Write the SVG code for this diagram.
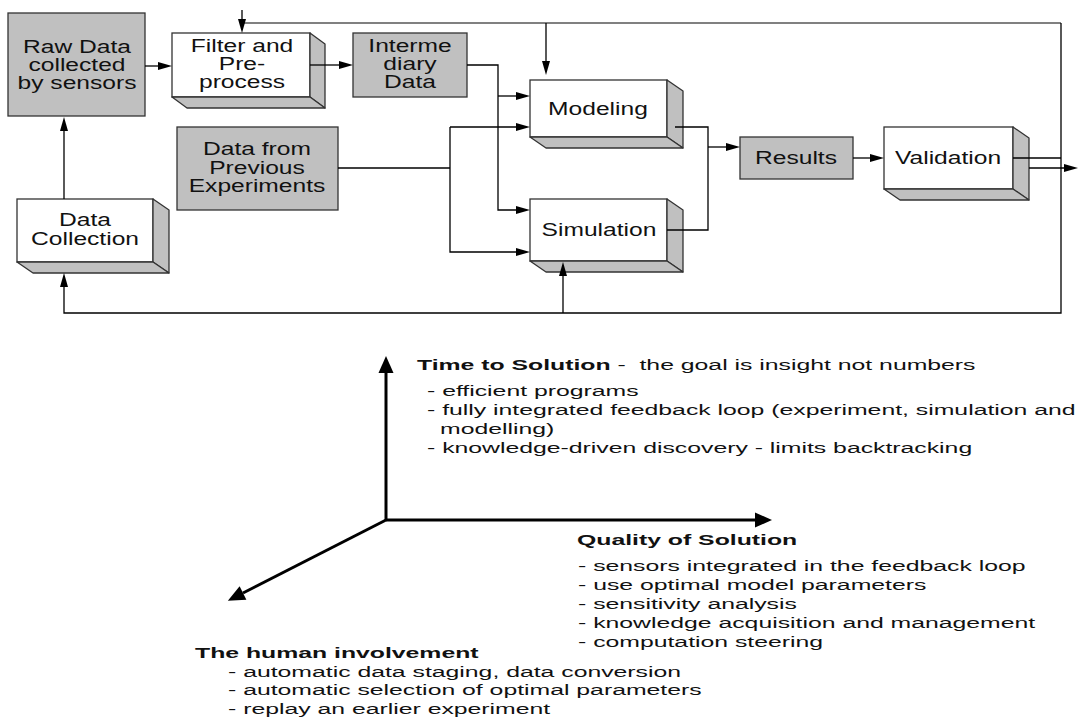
<svg xmlns="http://www.w3.org/2000/svg" width="1084" height="719" viewBox="0 0 1084 719">
<style>
.box{fill:#c0c0c0;stroke:#333;stroke-width:1.3}
.front{fill:#fff;stroke:#333;stroke-width:1.3}
.side{fill:#c0c0c0;stroke:#333;stroke-width:1.3;stroke-linejoin:round}
.bt{font-family:"Liberation Sans",Arial,sans-serif;font-size:18.5px;fill:#111;text-anchor:middle}
.tx{font-family:"Liberation Sans",Arial,sans-serif;font-size:15.5px;fill:#111}
.b{font-weight:bold}
.ln{fill:none;stroke:#000;stroke-width:1.3}
.gl{fill:none;stroke:#808080;stroke-width:2}
.ax{fill:none;stroke:#000;stroke-width:3}
</style>
<defs>
<marker id="ah" markerUnits="userSpaceOnUse" markerWidth="14" markerHeight="8" refX="0" refY="4" orient="auto" overflow="visible">
<path d="M0,0 L14,4 L0,8 z" fill="#000"/>
</marker>
<marker id="axh" markerUnits="userSpaceOnUse" markerWidth="17" markerHeight="15" refX="0" refY="7.5" orient="auto" overflow="visible">
<path d="M0,0 L17,7.5 L0,15 z" fill="#000"/>
</marker>
</defs>

<g id="raw-data">
<rect class="box" x="8" y="13" width="137" height="103"/>
<text class="bt" transform="matrix(1.33 0 0 1 77 53)">Raw Data</text>
<text class="bt" transform="matrix(1.33 0 0 1 77 71)">collected</text>
<text class="bt" transform="matrix(1.33 0 0 1 77 89)">by sensors</text>
</g>

<g id="filter">
<rect class="front" x="172" y="33" width="138" height="64"/>
<path class="side" d="M310,33 L325,44 L325,108 L310,97 z"/>
<path class="side" d="M172,97 L310,97 L325,108 L187,108 z"/>
<text class="bt" transform="matrix(1.33 0 0 1 242 52)">Filter and</text>
<text class="bt" transform="matrix(1.33 0 0 1 242 70)">Pre-</text>
<text class="bt" transform="matrix(1.33 0 0 1 242 88)">process</text>
</g>

<g id="intermediary">
<rect class="box" x="353" y="33" width="114" height="64"/>
<text class="bt" transform="matrix(1.33 0 0 1 410 52)">Interme</text>
<text class="bt" transform="matrix(1.33 0 0 1 410 70)">diary</text>
<text class="bt" transform="matrix(1.33 0 0 1 410 88)">Data</text>
</g>

<g id="previous">
<rect class="box" x="177" y="127" width="161" height="83"/>
<text class="bt" transform="matrix(1.33 0 0 1 257 155)">Data from</text>
<text class="bt" transform="matrix(1.33 0 0 1 257 174)">Previous</text>
<text class="bt" transform="matrix(1.33 0 0 1 257 192)">Experiments</text>
</g>

<g id="data-collection">
<rect class="front" x="17" y="199" width="136" height="63"/>
<path class="side" d="M153,199 L169,210 L169,273 L153,262 z"/>
<path class="side" d="M17,262 L153,262 L169,273 L33,273 z"/>
<text class="bt" transform="matrix(1.33 0 0 1 85 226)">Data</text>
<text class="bt" transform="matrix(1.33 0 0 1 85 245)">Collection</text>
</g>

<g id="modeling">
<rect class="front" x="530" y="80" width="137" height="57"/>
<path class="side" d="M667,80 L683,91 L683,148 L667,137 z"/>
<path class="side" d="M530,137 L667,137 L683,148 L546,148 z"/>
<text class="bt" transform="matrix(1.33 0 0 1 598 115)">Modeling</text>
</g>

<g id="simulation">
<rect class="front" x="530" y="199" width="137" height="62"/>
<path class="side" d="M667,199 L683,210 L683,272 L667,261 z"/>
<path class="side" d="M530,261 L667,261 L683,272 L546,272 z"/>
<text class="bt" transform="matrix(1.33 0 0 1 599 236)">Simulation</text>
</g>

<g id="results">
<rect class="box" x="740" y="137" width="113" height="42"/>
<text class="bt" transform="matrix(1.33 0 0 1 796 164)">Results</text>
</g>

<g id="validation">
<rect class="front" x="884" y="127" width="129" height="62"/>
<path class="side" d="M1013,127 L1029,138 L1029,200 L1013,189 z"/>
<path class="side" d="M884,189 L1013,189 L1029,200 L900,200 z"/>
<text class="bt" transform="matrix(1.33 0 0 1 948 164)">Validation</text>
</g>

<g id="connectors">
<path class="ln" d="M145,66 H158" marker-end="url(#ah)"/>
<path class="ln" d="M310,65 H339" marker-end="url(#ah)"/>
<path class="ln" d="M467,65 H498 V210 H516" marker-end="url(#ah)"/>
<path class="ln" d="M498,96 H516" marker-end="url(#ah)"/>
<path class="ln" d="M338,168 H450"/>
<path class="ln" d="M450,127 V252 H516" marker-end="url(#ah)"/>
<path class="ln" d="M450,127 H516" marker-end="url(#ah)"/>
<path class="ln" d="M675,127 H708 V230 H667"/>
<path class="ln" d="M708,147 H726" marker-end="url(#ah)"/>
<path class="ln" d="M853,158 H870" marker-end="url(#ah)"/>
<path class="ln" d="M1013,158 H1061"/>
<path class="ln" d="M1029,168 H1064" marker-end="url(#ah)"/>
<path class="gl" d="M242,23 H1061"/>
<path class="ln" d="M1061,23 V313 H64 V287" marker-end="url(#ah)"/>
<path class="ln" d="M242,10 V19" marker-end="url(#ah)"/>
<path class="ln" d="M546,23 V61" marker-end="url(#ah)"/>
<path class="ln" d="M563,313 V276" marker-end="url(#ah)"/>
<path class="ln" d="M64,199 V131" stroke-width="2.5" marker-end="url(#ah)"/>
</g>

<g id="axes">
<path class="ax" d="M386,520 V373" marker-end="url(#axh)"/>
<path class="ax" d="M386,520 H755" marker-end="url(#axh)"/>
<path class="ax" d="M386,520 L243,593" marker-end="url(#axh)"/>
</g>

<g id="time-to-solution">
<text class="tx" xml:space="preserve" transform="matrix(1.6 0 0 1 417 370)"><tspan class="b">Time to Solution</tspan> -  the goal is insight not numbers</text>
<text class="tx" transform="matrix(1.6 0 0 1 427 396)">- efficient programs</text>
<text class="tx" transform="matrix(1.6 0 0 1 427 415)">- fully integrated feedback loop (experiment, simulation and</text>
<text class="tx" transform="matrix(1.6 0 0 1 440 434)">modelling)</text>
<text class="tx" transform="matrix(1.6 0 0 1 427 453)">- knowledge-driven discovery - limits backtracking</text>
</g>

<g id="quality-of-solution">
<text class="tx b" transform="matrix(1.6 0 0 1 577 545)">Quality of Solution</text>
<text class="tx" transform="matrix(1.6 0 0 1 578 571)">- sensors integrated in the feedback loop</text>
<text class="tx" transform="matrix(1.6 0 0 1 578 590)">- use optimal model parameters</text>
<text class="tx" transform="matrix(1.6 0 0 1 578 609)">- sensitivity analysis</text>
<text class="tx" transform="matrix(1.6 0 0 1 578 628)">- knowledge acquisition and management</text>
<text class="tx" transform="matrix(1.6 0 0 1 578 647)">- computation steering</text>
</g>

<g id="human-involvement">
<text class="tx b" transform="matrix(1.6 0 0 1 195 658)">The human involvement</text>
<text class="tx" transform="matrix(1.6 0 0 1 228 677)">- automatic data staging, data conversion</text>
<text class="tx" transform="matrix(1.6 0 0 1 228 695)">- automatic selection of optimal parameters</text>
<text class="tx" transform="matrix(1.6 0 0 1 228 714)">- replay an earlier experiment</text>
</g>
</svg>
